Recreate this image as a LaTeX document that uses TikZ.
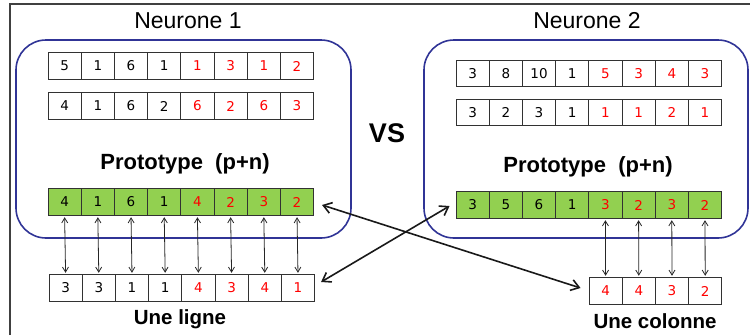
\documentclass[tikz,border=0pt]{standalone}
\usepackage{fontspec}
\setmainfont{Liberation Sans}
\newfontfamily\digitfont{DejaVu Sans}
\usetikzlibrary{arrows.meta}
\definecolor{protogreen}{RGB}{146,208,80}
\definecolor{boxblue}{RGB}{48,52,150}
\definecolor{cellline}{RGB}{50,50,50}
\begin{document}
\begin{tikzpicture}[x=1pt,y=-1pt,
  cell/.style={draw=cellline,line width=0.9pt,minimum width=33.2pt,minimum height=26.5pt,inner sep=0pt,font=\digitfont\fontsize{13.5}{14}\selectfont},
  protocell/.style={cell,fill=protogreen},
  neuronbox/.style={draw=boxblue,line width=1.6pt,rounded corners=30pt,inner sep=0pt},
  title/.style={font=\fontsize{23}{25}\selectfont},
  proto/.style={font=\bfseries\fontsize{22}{24}\selectfont},
  caption/.style={font=\bfseries\fontsize{20.5}{22}\selectfont},
  vsstyle/.style={font=\bfseries\fontsize{27}{30}\selectfont},
  smallarrow/.style={{Straight Barb[length=5pt,width=6pt]}-{Straight Barb[length=5pt,width=6pt]},line width=0.8pt,draw=black!85},
  bigarrow/.style={{Straight Barb[length=8pt,width=11pt]}-{Straight Barb[length=8pt,width=11pt]},line width=1.6pt,draw=black!90}
]
\useasboundingbox (0,0) rectangle (750,335);
% outer frame (left and top only)
\coordinate (fA) at (10,335);
\coordinate (fB) at (10,4);
\coordinate (fC) at (750,4);
\draw[line width=1.1pt,draw=black!75] (fA) -- (fB) -- (fC);

% neuron boxes
\node[neuronbox,minimum width=335pt,minimum height=198pt] (n1box) at (183.5,139) {};
\node[neuronbox,minimum width=324pt,minimum height=198pt] (n2box) at (586,139) {};

% titles
\node[title] (t1) at (188,21) {Neurone 1};
\node[title] (t2) at (587,21) {Neurone 2};
\node[proto] (p1) at (185,164) {Prototype\ \ (p+n)};
\node[proto] (p2) at (588,167) {Prototype\ \ (p+n)};
\node[vsstyle] (vs) at (387,133) {VS};
\node[caption] (cap1) at (180,319) {Une ligne};
\node[caption] (cap2) at (655,321) {Une colonne};

% Neuron 1 rows
\foreach \v [count=\i] in {5,1,6,1,1,3,1,2}
  \node[cell] (a\i) at (48+16.6+33.2*\i-33.2,66) {\ifnum\i>4\color{red}\fi\v};
\foreach \v [count=\i] in {4,1,6,2,6,2,6,3}
  \node[cell] (b\i) at (48+16.6+33.2*\i-33.2,106) {\ifnum\i>4\color{red}\fi\v};
\foreach \v [count=\i] in {4,1,6,1,4,2,3,2}
  \node[protocell] (g\i) at (48+16.6+33.2*\i-33.2,202) {\ifnum\i>4\color{red}\fi\v};
\foreach \v [count=\i] in {3,3,1,1,4,3,4,1}
  \node[cell] (l\i) at (49+16.6+33.2*\i-33.2,288) {\ifnum\i>4\color{red}\fi\v};

% Neuron 2 rows
\foreach \v [count=\i] in {3,8,10,1,5,3,4,3}
  \node[cell] (d\i) at (456+16.6+33.2*\i-33.2,73.5) {\ifnum\i>4\color{red}\fi\v};
\foreach \v [count=\i] in {3,2,3,1,1,1,2,1}
  \node[cell] (e\i) at (456+16.6+33.2*\i-33.2,112.5) {\ifnum\i>4\color{red}\fi\v};
\foreach \v [count=\i] in {3,5,6,1,3,2,3,2}
  \node[protocell] (h\i) at (456+16.6+33.2*\i-33.2,205) {\ifnum\i>4\color{red}\fi\v};
\foreach \v [count=\i] in {4,4,3,2}
  \node[cell] (c\i) at (589+16.6+33.2*\i-33.2,291) {\color{red}\v};

% vertical arrows
\foreach \i in {1,...,8}
  \draw[smallarrow,shorten <=1.5pt,shorten >=1.5pt] (g\i.south) -- (l\i.north);
\foreach \i/\j in {5/1,6/2,7/3,8/4}
  \draw[smallarrow,shorten <=1.5pt,shorten >=1.5pt] (h\i.south) -- (c\j.north);

% crossing arrows
\draw[bigarrow] ([xshift=8pt,yshift=-3pt]g8.east) -- ([xshift=-8pt,yshift=3pt]c1.west);
\draw[bigarrow] ([xshift=6pt,yshift=6pt]l8.east) -- ([xshift=-6pt,yshift=-1pt]h1.west);
\end{tikzpicture}
\end{document}
